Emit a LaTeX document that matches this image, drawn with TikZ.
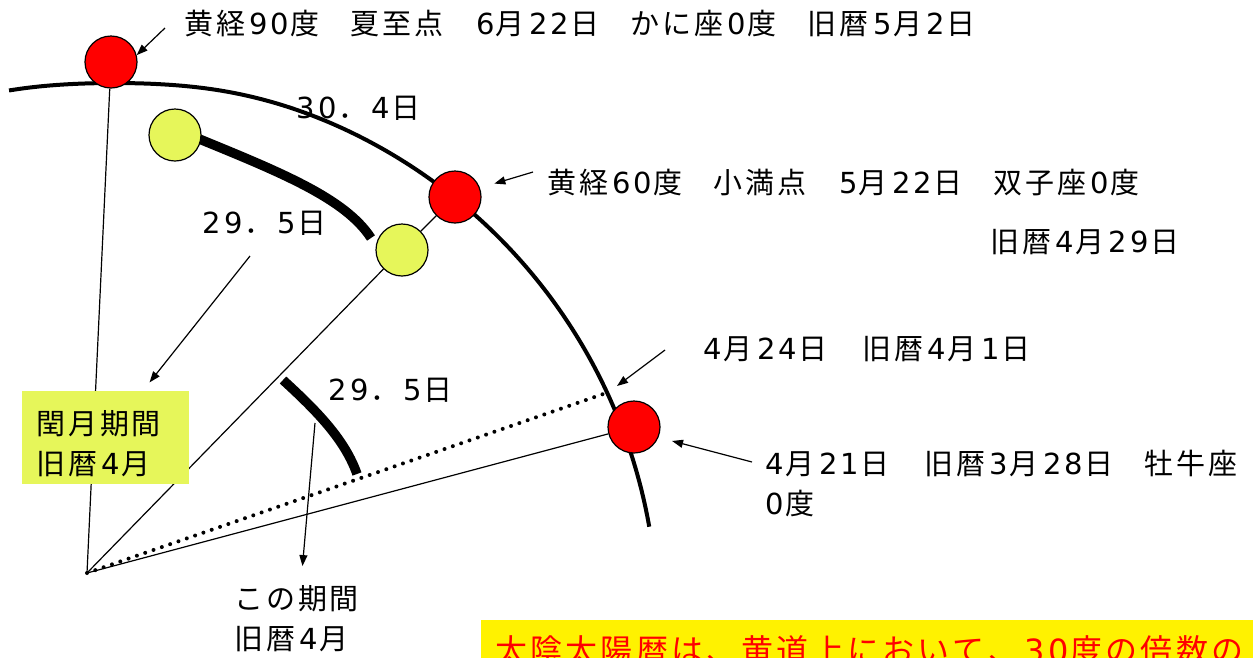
\documentclass[tikz,border=0pt]{standalone}
\usepackage{fontspec}
\usetikzlibrary{arrows.meta}
\newfontfamily\jpf{Noto Sans CJK JP}
\newfontfamily\dgf{DejaVu Sans}
\definecolor{ltyel}{RGB}{230,246,90}
\definecolor{redc}{RGB}{255,0,0}
% extra tracking after CJK characters
\newXeTeXintercharclass\cjkclass
\newcount\cjkc
\cjkc="3000
\loop \XeTeXcharclass\cjkc=\cjkclass \advance\cjkc by 1 \ifnum\cjkc<"A000 \repeat
\cjkc="FF00
\loop \XeTeXcharclass\cjkc=\cjkclass \advance\cjkc by 1 \ifnum\cjkc<"FFF0 \repeat
\XeTeXinterchartokenstate=1
\XeTeXinterchartoks\cjkclass\cjkclass={\kern0.1em}
\XeTeXinterchartoks\cjkclass 0={\kern0.1em}
\XeTeXinterchartoks\cjkclass 4095={\kern0.1em}
\newcommand\Nm[1]{\NmLoop#1\relax}
\def\NmLoop#1{\ifx\relax#1\else\makebox[0.74em]{\dgf #1}\expandafter\NmLoop\fi}
\newcommand\Gap{\hspace{28pt}}
\begin{document}
\begin{tikzpicture}[x=1pt,y=-1pt,
  txt/.style={font=\jpf\fontsize{29}{40}\selectfont, inner sep=0pt, anchor=base west},
  mltxt/.style={font=\jpf\fontsize{29}{40}\selectfont, inner sep=0pt, anchor=north west, align=left},
  redball/.style={circle, draw=black, line width=1.2pt, fill=redc, minimum size=52pt, inner sep=0pt},
  yelball/.style={circle, draw=black, line width=1.2pt, fill=ltyel, minimum size=52pt, inner sep=0pt},
  orbit/.style={line width=4pt},
  thickarc/.style={line width=9.5pt},
  ray/.style={line width=1.2pt},
  arr/.style={line width=1.2pt, -{Triangle[length=11pt,width=8pt]}},
]
\clip (0,0) rectangle (1253,657);
\fill[white] (0,0) rectangle (1253,657);

% ecliptic arc
\draw[orbit] plot[domain=-101.2:-10, samples=90, smooth]
  ({114.5+543*cos(\x)}, {621+543*sin(\x)+5*exp(-((\x+90)/12)^2)});

% thick arcs
\draw[thickarc] (192,136) .. controls (280,172) and (345,198) .. (371,238);
\draw[thickarc] (283,380) .. controls (318,412) and (345,440) .. (357,474);

% origin and dotted ray
\coordinate (O) at (87,573);
\coordinate (dend) at (609,392);
\draw[line width=4pt, line cap=round, dash pattern=on 0pt off 8.8pt] (O) -- (dend);

% balls
\node[redball] (R1) at (111,62) {};
\node[yelball] (Y1) at (175,135) {};
\node[redball] (R2) at (455,197) {};
\node[yelball] (Y2) at (402,250) {};
\node[redball] (R3) at (634,427) {};

% rays
\draw[ray] (O) -- (R1);
\draw[ray] (O) -- (Y2);
\draw[ray] (Y2) -- (R2);
\draw[ray] (O) -- (R3);

% leap month box
\node[fill=ltyel, anchor=north west, inner xsep=14pt, inner ysep=6pt, text width=139pt, align=left,
      font=\jpf\fontsize{29}{40}\selectfont] (leap) at (22,391)
  {\rule{0pt}{37pt}閏月期間\\\rule[-4pt]{0pt}{4pt}旧暦\Nm{4}月};

% labels
\node[txt] (l90) at (184,34) {黄経\Nm{90}度\Gap 夏至点\Gap \Nm{6}月\Nm{22}日\Gap かに座\Nm{0}度\Gap 旧暦\Nm{5}月\Nm{2}日};
\node[txt] (l60) at (547,193) {黄経\Nm{60}度\Gap 小満点\Gap \Nm{5}月\Nm{22}日\Gap 双子座\Nm{0}度};
\node[txt] (l60b) at (990,252) {旧暦\Nm{4}月\Nm{29}日};
\node[txt] (l24) at (702,359) {\Nm{4}月\Nm{24}日\hspace{32pt}旧暦\Nm{4}月\Nm{1}日};
\node[mltxt] (l21) at (764,447) {\rule{0pt}{27pt}\Nm{4}月\Nm{21}日\hspace{32pt}旧暦\Nm{3}月\Nm{28}日\Gap 牡牛座\\\Nm{0}度};
\node[txt] (d304) at (295,118) {\Nm{30}．\Nm{4}日};
\node[txt] (d295a) at (201,233) {\Nm{29}．\Nm{5}日};
\node[txt] (d295b) at (327,400) {\Nm{29}．\Nm{5}日};
\node[mltxt] (period) at (234,582) {\rule{0pt}{27pt}この期間\\旧暦\Nm{4}月};

% bottom note
\node[fill=yellow, text=redc, anchor=north west, inner xsep=14pt, inner ysep=12pt,
      font=\jpf\fontsize{32}{40}\selectfont] (note) at (481,620)
  {\rule{0pt}{30pt}太陰太陽暦は、黄道上において、\Nm{30}度の倍数の};

% arrows
\coordinate (a1) at (165,28);
\draw[arr] (a1) -- (R1.15);
\coordinate (a2) at (533,172);
\draw[arr, shorten >=15pt] (a2) -- (R2.20);
\coordinate (a3) at (250,256);
\draw[arr, shorten >=11pt] (a3) -- (leap);
\coordinate (a4) at (315,423);
\draw[arr, shorten >=16pt] (a4) -- (period);
\coordinate (a5) at (665,350);
\draw[arr, shorten >=10pt] (a5) -- (dend);
\coordinate (a6) at (752,462);
\draw[arr, shorten >=14pt] (a6) -- (R3.-23);
\end{tikzpicture}
\end{document}
